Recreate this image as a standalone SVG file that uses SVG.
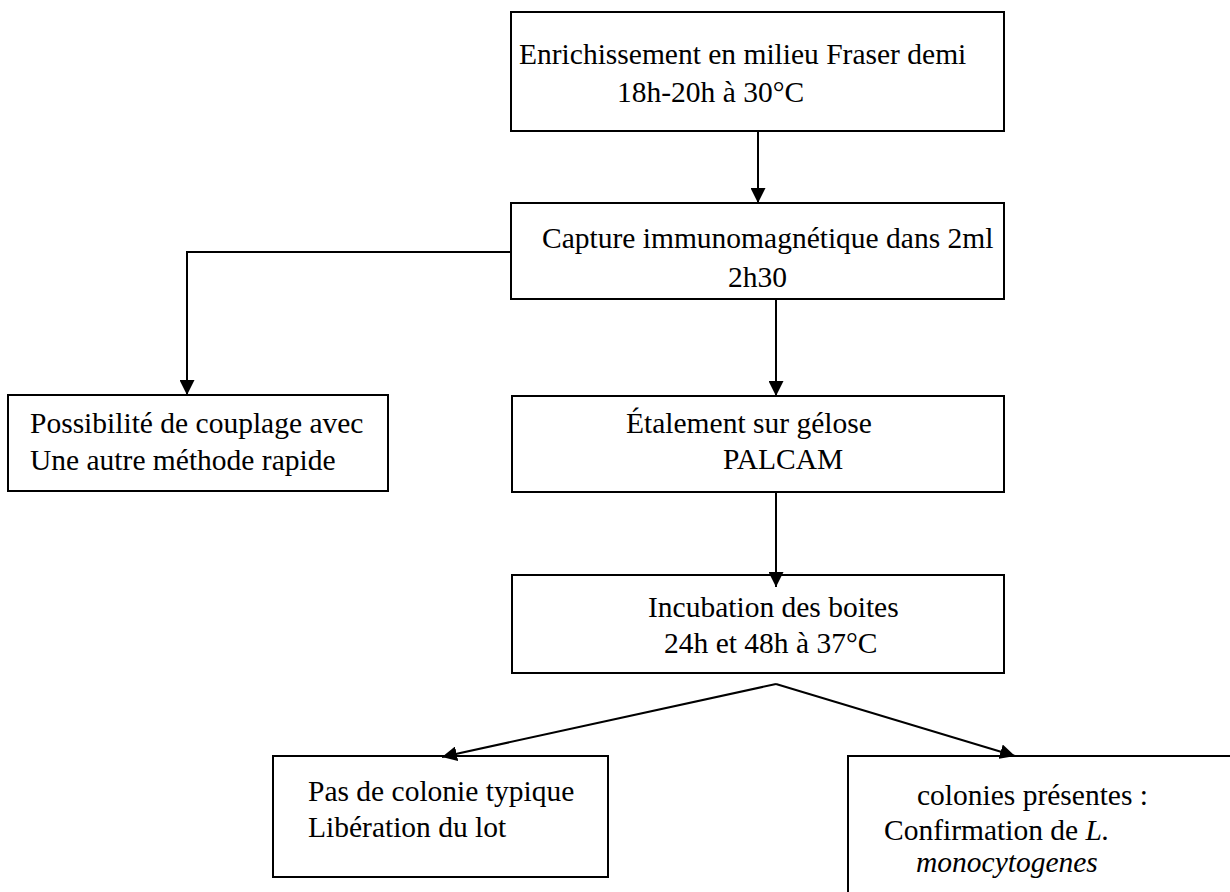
<svg xmlns="http://www.w3.org/2000/svg" width="1230" height="892" viewBox="0 0 1230 892">
<style>
.box{fill:#fff;stroke:#000;stroke-width:2}
.t{font-family:"Liberation Serif","Times New Roman",serif;font-size:29.5px;fill:#000}
.c{fill:none;stroke:#000;stroke-width:2}
</style>
<defs>
<marker id="ah" viewBox="0 0 15 15" refX="15" refY="7.5" markerWidth="15" markerHeight="15" markerUnits="userSpaceOnUse" orient="auto">
<path d="M0,0 L15,7.5 L0,15 Z" fill="#000"/>
</marker>
</defs>
<rect width="1230" height="892" fill="#fff"/>
<g id="n1">
<rect class="box" x="511" y="12" width="493" height="119"/>
<text class="t" x="519" y="64">Enrichissement en milieu Fraser demi</text>
<text class="t" x="617" y="102">18h-20h à 30°C</text>
</g>
<g id="n2">
<rect class="box" x="511" y="203" width="493" height="96"/>
<text class="t" x="542" y="248">Capture immunomagnétique dans 2ml</text>
<text class="t" x="728" y="287">2h30</text>
</g>
<g id="n3">
<rect class="box" x="8" y="395" width="380" height="96"/>
<text class="t" x="30" y="433">Possibilité de couplage avec</text>
<text class="t" x="30" y="470">Une autre méthode rapide</text>
</g>
<g id="n4">
<rect class="box" x="512" y="396" width="492" height="96"/>
<text class="t" x="626" y="433">Étalement sur gélose</text>
<text class="t" x="723" y="469">PALCAM</text>
</g>
<g id="n5">
<rect class="box" x="512" y="575" width="492" height="98"/>
<text class="t" x="648" y="617">Incubation des boites</text>
<text class="t" x="664" y="653">24h et 48h à 37°C</text>
</g>
<g id="n6">
<rect class="box" x="273" y="756" width="335" height="121"/>
<text class="t" x="308" y="801">Pas de colonie typique</text>
<text class="t" x="308" y="837">Libération du lot</text>
</g>
<g id="n7">
<rect class="box" x="848" y="756" width="400" height="160"/>
<text class="t" x="917" y="805">colonies présentes :</text>
<text class="t" x="884" y="840">Confirmation de <tspan font-style="italic">L.</tspan></text>
<text class="t" x="916" y="872" font-style="italic">monocytogenes</text>
</g>
<g id="connectors">
<path class="c" d="M758,131 V203" marker-end="url(#ah)"/>
<path class="c" d="M511,252 H187 V395" marker-end="url(#ah)"/>
<path class="c" d="M776,299 V396" marker-end="url(#ah)"/>
<path class="c" d="M776,492 V587" marker-end="url(#ah)"/>
<path class="c" d="M776,684 L442,757" marker-end="url(#ah)"/>
<path class="c" d="M776,684 L1015,756" marker-end="url(#ah)"/>
</g>
</svg>
